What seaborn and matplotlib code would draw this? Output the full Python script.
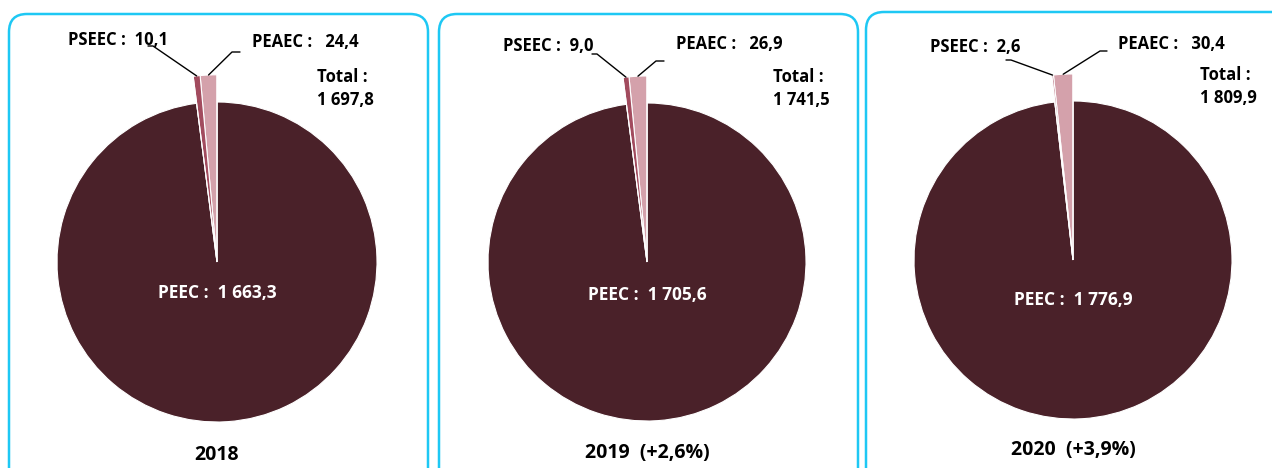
import numpy as np
import matplotlib
matplotlib.use("Agg")
import matplotlib.pyplot as plt
from matplotlib.patches import FancyBboxPatch
import seaborn as sns

# values
years = ["2018", "2019", "2020"]
growth = ["", "(+2,6%)", "(+3,9%)"]
peec = [1663.3, 1705.6, 1776.9]
pseec = [10.1, 9.0, 2.6]
peaec = [24.4, 26.9, 30.4]
totals = ["1 697,8", "1 741,5", "1 809,9"]

def fr(v):
    # french number format: 1 663,3
    s = f"{v:,.1f}".replace(",", " ").replace(".", ",")
    return s

sns.set_theme(style="white")
plt.rcParams["font.family"] = ["Open Sans", "DejaVu Sans"]

W, H = 1272, 468
fig = plt.figure(figsize=(W / 100, H / 100), dpi=100)
ax = fig.add_axes([0, 0, 1, 1])

col_main = "#4a2129"
col_pseec = "#a24b5e"
col_peaec = "#d4a1ab"
frame_col = "#1ec8f4"

# layout per panel (pixel coords, y from top)
panels = [
    dict(box=(9, 14, 419, 480), c=(217, 262), r=160,
         ps_txt=(68, 40), pe_txt=(252, 42), ps_knee=(153, 46), pe_knee=(232, 52), pe_end=240,
         tot=(317, 77), peec_y=293, year_y=455),
    dict(box=(439, 14, 419, 480), c=(647, 262), r=159,
         ps_txt=(503, 46), pe_txt=(676, 44), ps_knee=(597, 54), pe_knee=(656, 61), pe_end=664,
         tot=(773, 77), peec_y=295, year_y=453),
    dict(box=(866, 12, 430, 480), c=(1073, 260), r=159,
         ps_txt=(930, 47), pe_txt=(1118, 44), ps_knee=(1011, 60), pe_knee=(1100, 51), pe_end=1107,
         tot=(1200, 75), peec_y=300, year_y=450),
]

def fy(y):
    return H - y

txt_kw = dict(fontsize=12, fontweight="bold", color="black")

for i, p in enumerate(panels):
    x0, y0, w, h = p["box"]
    ax.add_patch(FancyBboxPatch((x0, fy(y0 + h)), w, h,
                                boxstyle="round,pad=0,rounding_size=18",
                                fill=False, edgecolor=frame_col, linewidth=1.8))
    cx, cy = p["c"][0], fy(p["c"][1])
    r = p["r"]
    vals = [peaec[i], pseec[i], peec[i]]
    # main pie
    ax.pie(vals, center=(cx, cy), radius=r, startangle=90, counterclock=True,
           colors=["none", "none", col_main],
           wedgeprops=dict(edgecolor="white", linewidth=0.8))
    # small slices stick out further
    r2 = r * 1.17
    ax.pie(vals, center=(cx, cy), radius=r2, startangle=90, counterclock=True,
           colors=[col_peaec, col_pseec, "none"],
           wedgeprops=dict(edgecolor="white", linewidth=0.8))
    tot = sum(vals)
    a_pe = np.deg2rad(90 + 360 * peaec[i] / tot / 2)
    a_ps = np.deg2rad(90 + 360 * (peaec[i] + pseec[i] / 2) / tot)
    pe_tip = (cx + r2 * np.cos(a_pe), cy + r2 * np.sin(a_pe))
    ps_tip = (cx + r2 * np.cos(a_ps), cy + r2 * np.sin(a_ps))

    # leader lines
    kx, ky = p["ps_knee"]
    ax.plot([kx - 5, kx, ps_tip[0]], [fy(ky), fy(ky), ps_tip[1]], color="black", lw=1.0)
    kx, ky = p["pe_knee"]
    ax.plot([pe_tip[0], kx, p["pe_end"]], [pe_tip[1], fy(ky), fy(ky)], color="black", lw=1.0)

    ax.text(p["ps_txt"][0], fy(p["ps_txt"][1]), f"PSEEC :  {fr(pseec[i])}",
            ha="left", va="center", **txt_kw)
    ax.text(p["pe_txt"][0], fy(p["pe_txt"][1]), f"PEAEC :   {fr(peaec[i])}",
            ha="left", va="center", **txt_kw)
    ax.text(p["tot"][0], fy(p["tot"][1]), "Total :", ha="left", va="center", **txt_kw)
    ax.text(p["tot"][0], fy(p["tot"][1] + 23), totals[i], ha="left", va="center", **txt_kw)
    ax.text(p["c"][0], fy(p["peec_y"]), f"PEEC :  {fr(peec[i])}", ha="center", va="center",
            fontsize=12.5, fontweight="bold", color="white")
    label = years[i] if not growth[i] else f"{years[i]}  {growth[i]}"
    ax.text(p["c"][0], fy(p["year_y"]), label, ha="center", va="center",
            fontsize=14, fontweight="bold", color="black")

ax.set_xlim(0, W)
ax.set_ylim(0, H)
ax.set_aspect("auto")
ax.axis("off")

fig.savefig("out.png", dpi=100, facecolor="white")
